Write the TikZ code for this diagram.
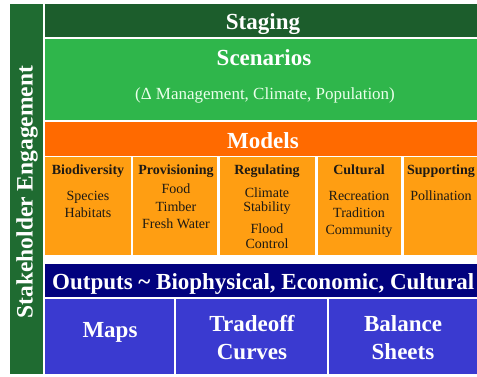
\documentclass[tikz,border=0pt]{standalone}
\usepackage{fontspec}
\setmainfont{Liberation Serif}
\definecolor{barGreen}{HTML}{1F6B31}
\definecolor{stageGreen}{HTML}{1C5D2C}
\definecolor{scenGreen}{HTML}{2FB64B}
\definecolor{modelRed}{HTML}{FF6A00}
\definecolor{modelOrange}{HTML}{FF9E12}
\definecolor{outNavy}{HTML}{02027E}
\definecolor{outBlue}{HTML}{3A3AD0}
\definecolor{inkDark}{HTML}{1E1A14}
\tikzset{
  big/.style={font=\fontsize{23}{26}\selectfont\bfseries, text=white, inner sep=0pt, anchor=base},
  sub/.style={font=\fontsize{17}{20}\selectfont, text=white!92!green, inner sep=0pt, anchor=base},
  colhead/.style={font=\fontsize{14}{16}\selectfont\bfseries, text=inkDark, inner sep=0pt, anchor=base},
  colitem/.style={font=\fontsize{14}{16}\selectfont, text=inkDark, inner sep=0pt, anchor=base},
}
\begin{document}
\begin{tikzpicture}[x=1pt,y=-1pt]
\useasboundingbox (0,0) rectangle (477,376);
\fill[barGreen] (10,4) rectangle (43,374);
\fill[stageGreen] (45,4) rectangle (477,37);
\fill[scenGreen] (45,39) rectangle (477,120);
\fill[modelRed] (45,122) rectangle (477,156);
\fill[modelOrange] (45,157) rectangle (131,255);
\fill[modelOrange] (133,157) rectangle (217,255);
\fill[modelOrange] (220,157) rectangle (315,255);
\fill[modelOrange] (318,157) rectangle (401,255);
\fill[modelOrange] (404,157) rectangle (477,255);
\fill[outNavy] (45,264) rectangle (477,297);
\fill[outBlue] (45,299) rectangle (174,374);
\fill[outBlue] (176,299) rectangle (327,374);
\fill[outBlue] (329,299) rectangle (477,374);
\node[big,anchor=center,rotate=90,font=\fontsize{23.5}{26}\selectfont\bfseries] (engage) at (27,192) {Stakeholder Engagement};
\node[big] (staging) at (263,29) {Staging};
\node[big] (scenarios) at (264,65) {Scenarios};
\node[sub] (drivers) at (265,99) {(Δ Management, Climate, Population)};
\node[big] (models) at (263,148) {Models};
\node[colhead] (biodiv) at (88,174) {Biodiversity};
\node[colitem] (species) at (88,200) {Species};
\node[colitem] (habitats) at (88,217) {Habitats};
\node[colhead] (prov) at (176,174) {Provisioning};
\node[colitem] (food) at (176,193) {Food};
\node[colitem] (timber) at (176,211) {Timber};
\node[colitem] (water) at (176,228) {Fresh Water};
\node[colhead] (regul) at (267,174) {Regulating};
\node[colitem] (climate) at (267,197) {Climate};
\node[colitem] (stability) at (267,211) {Stability};
\node[colitem] (flood) at (267,233) {Flood};
\node[colitem] (control) at (267,248) {Control};
\node[colhead] (cultural) at (359,174) {Cultural};
\node[colitem] (recreation) at (359,200) {Recreation};
\node[colitem] (tradition) at (359,217) {Tradition};
\node[colitem] (community) at (359,234) {Community};
\node[colhead] (support) at (441,174) {Supporting};
\node[colitem] (pollination) at (441,200) {Pollination};
\node[big,anchor=base west] (outputs) at (52,289) {Outputs \textasciitilde{} Biophysical, Economic, Cultural};
\node[big] (maps) at (110,337) {Maps};
\node[big] (tradeoff) at (252,331) {Tradeoff};
\node[big] (curves) at (252,359) {Curves};
\node[big] (balance) at (403,331) {Balance};
\node[big] (sheets) at (403,359) {Sheets};
\end{tikzpicture}
\end{document}
